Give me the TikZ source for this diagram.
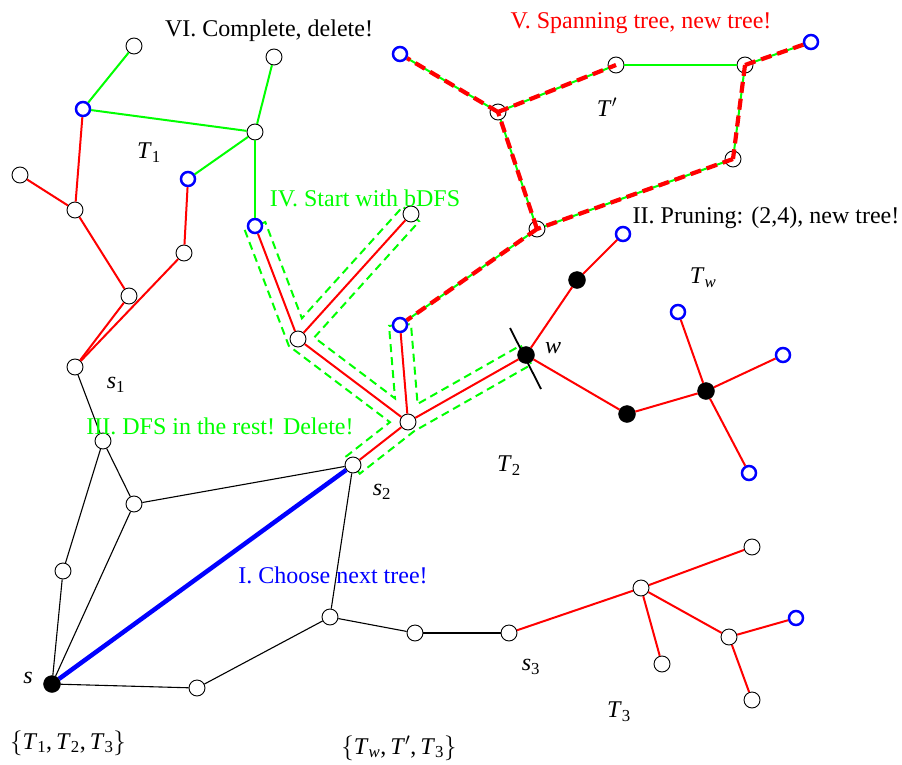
\documentclass[tikz,border=0pt]{standalone}
\usepackage{fontspec}
\setmainfont{Liberation Serif}
\usetikzlibrary{calc}
\pgfdeclarelayer{bg}
\pgfsetlayers{bg,main}
\definecolor{gr}{RGB}{0,255,0}
\newcommand\mi[1]{\textit{#1}}
\newcommand\sbs[1]{\textsubscript{#1}}
\begin{document}
\begin{tikzpicture}[x=1pt,y=-1pt,font=\fontsize{24}{28}\selectfont,
 wn/.style={circle,draw=black,fill=white,line width=0.9pt,minimum size=16pt,inner sep=0pt},
 bn/.style={circle,draw=blue,fill=white,line width=2.5pt,minimum size=14pt,inner sep=0pt},
 kn/.style={circle,fill=black,draw=black,minimum size=17pt,inner sep=0pt},
 re/.style={draw=red,line width=2pt},
 ge/.style={draw=gr,line width=2pt},
 ke/.style={draw=black,line width=1.1pt},
 rdash/.style={draw=red,line width=4.2pt,dash pattern=on 11pt off 6pt},
 cont/.style={draw=gr,line width=2pt,dash pattern=on 8pt off 5pt},
 lbl/.style={inner sep=0pt,anchor=center}]
\useasboundingbox (0,0) rectangle (902,765);
% T1
\node[wn] (a1) at (134,46) {};
\node[bn] (a2) at (83,109) {};
\node[wn] (a3) at (255,132) {};
\node[wn] (a4) at (274,57) {};
\node[bn] (a5) at (188,179) {};
\node[wn] (a6) at (20,175) {};
\node[wn] (a7) at (75,210) {};
\node[wn] (a8) at (184,253) {};
\node[wn] (a9) at (129,296) {};
\node[bn] (a10) at (255,226) {};
\node[wn] (s1) at (75,367) {};
% black part
\node[wn] (b1) at (103,441) {};
\node[wn] (b2) at (134,504) {};
\node[wn] (b3) at (63,571) {};
\node[kn] (s) at (52,684) {};
\node[wn] (b4) at (197,688) {};
\node[wn] (b5) at (330,617) {};
\node[wn] (b6) at (415,633) {};
\node[wn] (s2) at (353,465) {};
\node[wn] (s3) at (509,633) {};
% T3
\node[wn] (c1) at (641,588) {};
\node[wn] (c2) at (752,547) {};
\node[wn] (c3) at (662,664) {};
\node[wn] (c4) at (729,637) {};
\node[bn] (c5) at (796,618) {};
\node[wn] (c6) at (752,700) {};
% T2
\node[wn] (d0) at (408,422) {};
\node[wn] (d1) at (298,339) {};
\node[wn] (d2) at (411,214) {};
\node[bn] (d3) at (400,325) {};
\node[kn] (w) at (526,355) {};
% Tw
\node[kn] (e1) at (577,280) {};
\node[bn] (e2) at (623,234) {};
\node[kn] (e3) at (627,414) {};
\node[kn] (e4) at (706,391) {};
\node[bn] (e5) at (678,312) {};
\node[bn] (e6) at (783,355) {};
\node[bn] (e7) at (749,473) {};
% T'
\node[bn] (f1) at (400,54) {};
\node[wn] (f2) at (498,112) {};
\node[wn] (f3) at (616,65) {};
\node[wn] (f4) at (745,65) {};
\node[bn] (f5) at (811,42) {};
\node[wn] (f6) at (733,159) {};
\node[wn] (f7) at (537,229) {};

% contour of the bDFS
\begin{pgfonlayer}{bg}
\foreach \k/\p/\q in {1/a10/d1,2/d1/d0,3/d0/s2,4/s2/d0,5/d0/w,6/w/d0,7/d0/d3,8/d3/d0,9/d0/d1,10/d1/d2,11/d2/d1,12/d1/a10}{
  \coordinate (os\k) at ($(\p.center)!11pt!-90:(\q.center)$);
  \coordinate (ot\k) at ($(\q.center)!11pt!90:(\p.center)$);
}
\draw[cont] (os1) -- (intersection of os1--ot1 and os2--ot2)
  -- (intersection of os2--ot2 and os3--ot3) -- (ot3) -- (os4)
  -- (intersection of os4--ot4 and os5--ot5) -- (ot5) -- (os6)
  -- (intersection of os6--ot6 and os7--ot7) -- (ot7) -- (os8)
  -- (intersection of os8--ot8 and os9--ot9)
  -- (intersection of os9--ot9 and os10--ot10) -- (ot10) -- (os11)
  -- (intersection of os11--ot11 and os12--ot12) -- (ot12) -- cycle;
\end{pgfonlayer}

% T1 edges
\draw[ge] (a1) -- (a2);
\draw[ge] (a2) -- (a3);
\draw[ge] (a3) -- (a4);
\draw[ge] (a3) -- (a5);
\draw[ge] (a3) -- (a10);
\draw[re] (a2) -- (a7);
\draw[re] (a6) -- (a7);
\draw[re] (a7) -- (a9);
\draw[re] (a9) -- (s1);
\draw[re] (a5) -- (a8);
\draw[re] (a8) -- (s1);
% black edges
\draw[ke] (s1) -- (b1);
\draw[ke] (b1) -- (b2);
\draw[ke] (b1) -- (b3);
\draw[ke] (b3) -- (s);
\draw[ke] (b2) -- (s);
\draw[ke] (b2) -- (s2);
\draw[ke] (s2) -- (b5);
\draw[ke] (b5) -- (b4);
\draw[ke] (b4) -- (s);
\draw[ke] (b5) -- (b6);
\draw[ke] (b6) -- (s3);
\draw[draw=blue,line width=4.5pt] (s) -- (s2);
% T3 edges
\draw[re] (s3) -- (c1);
\draw[re] (c1) -- (c2);
\draw[re] (c1) -- (c3);
\draw[re] (c1) -- (c4);
\draw[re] (c4) -- (c5);
\draw[re] (c4) -- (c6);
% T2 edges
\draw[re] (s2) -- (d0);
\draw[re] (d0) -- (d1);
\draw[re] (d1) -- (a10);
\draw[re] (d1) -- (d2);
\draw[re] (d0) -- (d3);
\draw[re] (d0) -- (w);
% Tw edges
\draw[re] (w) -- (e1);
\draw[re] (e1) -- (e2);
\draw[re] (w) -- (e3);
\draw[re] (e3) -- (e4);
\draw[re] (e4) -- (e5);
\draw[re] (e4) -- (e6);
\draw[re] (e4) -- (e7);
\draw[line width=1.8pt] ($(w.center)+(-16,-27)$) -- ($(w.center)+(15,34)$);
% T' edges
\draw[ge] (f1) -- (f2);
\draw[ge] (f2) -- (f3);
\draw[ge] (f3) -- (f4);
\draw[ge] (f4) -- (f5);
\draw[ge] (f4) -- (f6);
\draw[ge] (f6) -- (f7);
\draw[ge] (f7) -- (f2);
\draw[ge] (f7) -- (d3);
\draw[rdash] (f2.center) -- (f1);
\draw[rdash] (f2.center) -- (f3.center);
\draw[rdash] (f4.center) -- (f5);
\draw[rdash] (f4.center) -- (f6.center);
\draw[rdash] (f6.center) -- (f7.center);
\draw[rdash] (f7.center) -- (f2.center);
\draw[rdash] (f7.center) -- (d3);

% labels
\node[lbl] (lVI) at (269,31) {VI. Complete, delete!};
\node[lbl,text=red] (lV) at (641,23) {V. Spanning tree, new tree!};
\node[lbl] (lT1) at (149,153) {\mi{T}\sbs{1}};
\node[lbl] (lTp) at (607,107) {\mi{T}$'$};
\node[lbl,text=gr] (lIV) at (365,198) {IV. Start with bDFS};
\node[lbl] (lII) at (766,218) {II. Pruning: (2,4), new tree!};
\node[lbl] (lTw) at (703,278) {\mi{T}\sbs{\mi{w}}};
\node[lbl] (lw) at (553,348) {\mi{w}};
\node[lbl] (ls1) at (116,385) {\mi{s}\sbs{1}};
\node[lbl,text=gr] (lIII) at (220,426) {III. DFS in the rest! Delete!};
\node[lbl] (ls2) at (382,492) {\mi{s}\sbs{2}};
\node[lbl] (lT2) at (509,466) {\mi{T}\sbs{2}};
\node[lbl,text=blue] (lI) at (333,575) {I. Choose next tree!};
\node[lbl] (ls) at (28,678) {\mi{s}};
\node[lbl] (lset1) at (68,743) {$\{$\mi{T}\sbs{1},\,\mi{T}\sbs{2},\,\mi{T}\sbs{3}$\}$};
\node[lbl] (lset2) at (399,748) {$\{$\mi{T}\sbs{\mi{w}},\,\mi{T}$'$,\,\mi{T}\sbs{3}$\}$};
\node[lbl] (ls3) at (531,667) {\mi{s}\sbs{3}};
\node[lbl] (lT3) at (619,712) {\mi{T}\sbs{3}};
\end{tikzpicture}
\end{document}
